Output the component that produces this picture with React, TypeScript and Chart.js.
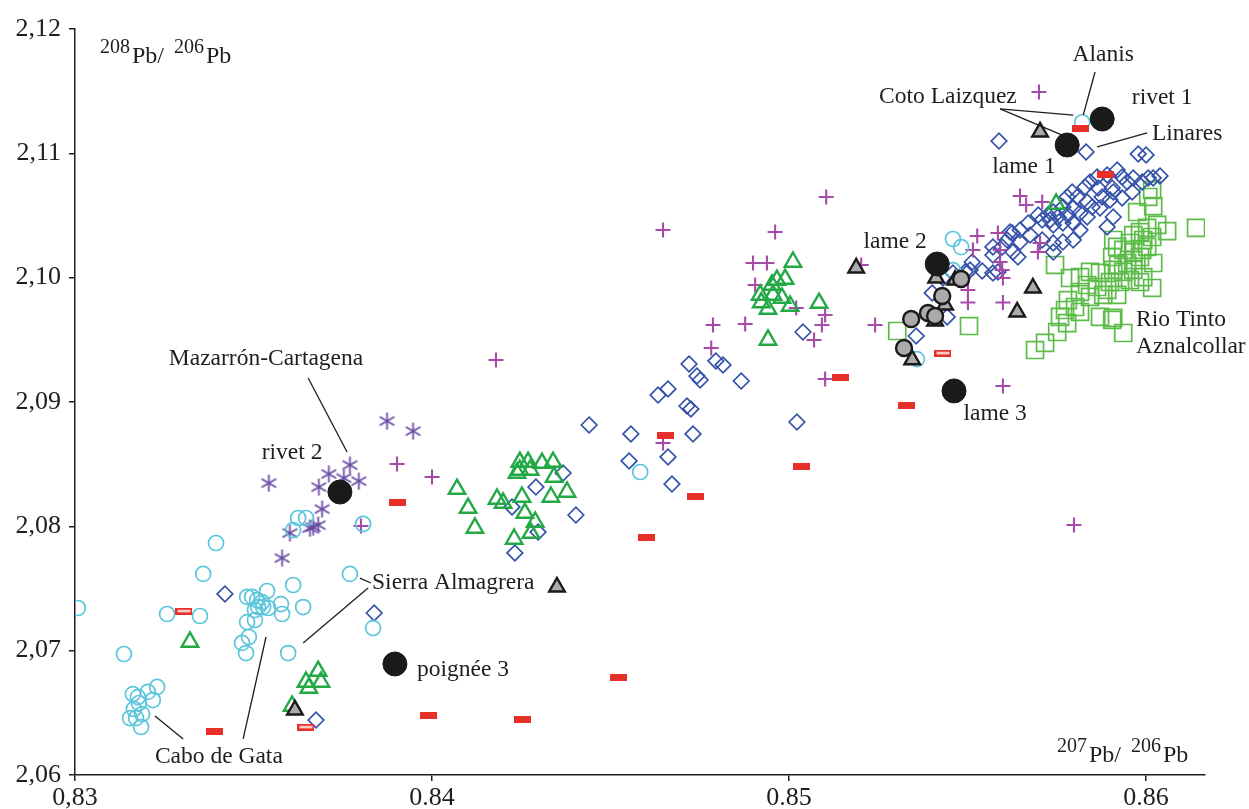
import React, { useEffect, useRef } from "react";
import { Chart, registerables } from "chart.js";

Chart.register(...registerables);

// ---------- axes ----------
const xTickValues = [0.83, 0.84, 0.85, 0.86];
const xTickLabels = ["0,83", "0.84", "0.85", "0.86"];
const yTickValues = [2.06, 2.07, 2.08, 2.09, 2.1, 2.11, 2.12];
const yTickLabels = ["2,06", "2,07", "2,08", "2,09", "2,10", "2,11", "2,12"];
const xMin = 0.83;
const xMax = 0.86165;
const yMin = 2.06;
const yMax = 2.12;

// ---------- series: [207Pb/206Pb, 208Pb/206Pb] ----------
const artefacts = [
  [0.85877, 2.11276], [0.85779, 2.11067], [0.85415, 2.1011], [0.85462, 2.09089],
  [0.83742, 2.08276], [0.83896, 2.06893],
];

const grayCircles = [
  [0.85342, 2.09667], [0.85322, 2.09434], [0.85389, 2.09716], [0.85409, 2.09692],
  [0.85429, 2.09853], [0.85482, 2.09989],
];

const grayTriangles = [
  [0.85703, 2.11172], [0.85188, 2.10078], [0.8435, 2.07512], [0.83616, 2.06523],
  [0.85683, 2.09917], [0.85639, 2.09724], [0.85412, 2.09997], [0.85437, 2.0978],
  [0.85409, 2.09652], [0.85345, 2.0934], [0.85465, 2.09981],
];

const redDashes = [
  [0.85815, 2.112], [0.83902, 2.08188], [0.83392, 2.06346], [0.83989, 2.06475],
  [0.84252, 2.0645], [0.84521, 2.06788], [0.84602, 2.07914], [0.84737, 2.08236],
  [0.84655, 2.08727], [0.85036, 2.08485], [0.85143, 2.092], [0.85328, 2.08968],
  [0.85885, 2.10826],
];

const redHollowDashes = [
  [0.83305, 2.07319], [0.83647, 2.06386], [0.85431, 2.09394],
];

const cyanCircles = [
  [0.83008, 2.07343], [0.83137, 2.06973], [0.83258, 2.07295], [0.8335, 2.07279],
  [0.83359, 2.07617], [0.83395, 2.07866], [0.83162, 2.06651], [0.83176, 2.06627],
  [0.83204, 2.06668], [0.8323, 2.06708], [0.83218, 2.06603], [0.83165, 2.06531],
  [0.83154, 2.06458], [0.83171, 2.06458], [0.83188, 2.0649], [0.83185, 2.06386],
  [0.83179, 2.06579], [0.83482, 2.07432], [0.83496, 2.07432], [0.8351, 2.07407],
  [0.83524, 2.07391], [0.83538, 2.0748], [0.83513, 2.07351], [0.83527, 2.07351],
  [0.83541, 2.07343], [0.83504, 2.07327], [0.83577, 2.07375], [0.8358, 2.07295],
  [0.83482, 2.0723], [0.83504, 2.07246], [0.83487, 2.0711], [0.83468, 2.07062],
  [0.83479, 2.06981], [0.83611, 2.07528], [0.83639, 2.07351], [0.83597, 2.06981],
  [0.83611, 2.0797], [0.83625, 2.08067], [0.83647, 2.08067], [0.83807, 2.08019],
  [0.8377, 2.07617], [0.83835, 2.07182], [0.84583, 2.08437], [0.85821, 2.1125],
  [0.85459, 2.10311], [0.85482, 2.10245], [0.85459, 2.1006], [0.85358, 2.09345],
];

const asterisks = [
  [0.83874, 2.08847], [0.83947, 2.08766], [0.83543, 2.08348], [0.83711, 2.08421],
  [0.8377, 2.08493], [0.83683, 2.08316], [0.83753, 2.08388], [0.83795, 2.08364],
  [0.83692, 2.08139], [0.83667, 2.07994], [0.83681, 2.0801], [0.83658, 2.07986],
  [0.83602, 2.07946], [0.8358, 2.07745],
];

const plusSigns = [
  [0.857, 2.11493], [0.85104, 2.10649], [0.84647, 2.10383], [0.84961, 2.10367],
  [0.84899, 2.10118], [0.84938, 2.10118], [0.84905, 2.09941], [0.8502, 2.09756],
  [0.84877, 2.09627], [0.84787, 2.09619], [0.84782, 2.09434], [0.8507, 2.09499],
  [0.85101, 2.097], [0.85092, 2.09619], [0.85101, 2.09185], [0.84647, 2.0867],
  [0.84179, 2.09338], [0.83902, 2.08501], [0.84, 2.08397], [0.83801, 2.08003],
  [0.85647, 2.10657], [0.85664, 2.10585], [0.85709, 2.10609], [0.85527, 2.10335],
  [0.85515, 2.10223], [0.85591, 2.10223], [0.85591, 2.10126], [0.85597, 2.10062],
  [0.85599, 2.09997], [0.85703, 2.10279], [0.85697, 2.10207], [0.85202, 2.10102],
  [0.85241, 2.09619], [0.85501, 2.09901], [0.85501, 2.098], [0.85599, 2.098],
  [0.85599, 2.09129], [0.85798, 2.08011], [0.85585, 2.10359],
];

const greenTriangles = [
  [0.8407, 2.083], [0.84101, 2.08147], [0.8412, 2.07987], [0.84182, 2.0822],
  [0.84199, 2.08188], [0.84246, 2.08517], [0.84269, 2.08517], [0.84308, 2.08509],
  [0.84339, 2.08517], [0.84238, 2.08429], [0.84246, 2.08453], [0.84275, 2.08453],
  [0.84342, 2.08397], [0.84378, 2.08276], [0.84333, 2.08236], [0.84252, 2.08236],
  [0.8426, 2.08107], [0.84289, 2.08035], [0.84277, 2.07946], [0.8423, 2.07898],
  [0.83322, 2.0707], [0.83608, 2.06555], [0.83647, 2.06748], [0.83655, 2.067],
  [0.83681, 2.06836], [0.83689, 2.06748], [0.85011, 2.10126], [0.84989, 2.09989],
  [0.84966, 2.09981], [0.84952, 2.09941], [0.84919, 2.09861], [0.84922, 2.098],
  [0.84955, 2.09861], [0.8498, 2.09837], [0.85003, 2.09772], [0.84941, 2.09748],
  [0.84941, 2.09499], [0.85084, 2.09796], [0.85748, 2.10593],
];

const diamonds = [
  [0.8342, 2.07456], [0.83838, 2.07303], [0.83675, 2.06442], [0.8444, 2.08815],
  [0.84557, 2.08743], [0.84552, 2.08526], [0.84661, 2.08558], [0.84672, 2.0834],
  [0.84731, 2.08743], [0.84714, 2.08968], [0.84725, 2.08944], [0.85022, 2.08839],
  [0.84367, 2.08429], [0.84291, 2.08316], [0.84224, 2.08156], [0.84403, 2.08091],
  [0.84297, 2.07954], [0.84232, 2.07786], [0.84633, 2.09056], [0.84661, 2.09105],
  [0.8472, 2.09306], [0.84742, 2.09209], [0.84751, 2.09177], [0.84795, 2.0933],
  [0.84815, 2.09298], [0.84866, 2.09169], [0.85039, 2.09563],
  [0.85588, 2.11099], [0.85832, 2.11011], [0.85978, 2.10995], [0.86, 2.10987],
  [0.86039, 2.10818], [0.86006, 2.10802], [0.85989, 2.10769], [0.85919, 2.10866],
  [0.85933, 2.1081], [0.85947, 2.10769], [0.85891, 2.10826], [0.85863, 2.1081],
  [0.85843, 2.10769], [0.85829, 2.10729], [0.85866, 2.10721], [0.85793, 2.10689],
  [0.85779, 2.10649], [0.85807, 2.10649], [0.85908, 2.10689], [0.85961, 2.10689],
  [0.85877, 2.10649], [0.85899, 2.10625], [0.85835, 2.10609], [0.85849, 2.10568],
  [0.85871, 2.1056], [0.85796, 2.1056], [0.85767, 2.10568], [0.8574, 2.10528],
  [0.85753, 2.10488], [0.85781, 2.10504], [0.85815, 2.1052], [0.85835, 2.10488],
  [0.85731, 2.10464], [0.85709, 2.10464], [0.8574, 2.10424], [0.85767, 2.1044],
  [0.85796, 2.1044], [0.85698, 2.10504], [0.8567, 2.1044], [0.85647, 2.10383],
  [0.85625, 2.10359], [0.85611, 2.10303], [0.85647, 2.10287], [0.85571, 2.10247],
  [0.85597, 2.10247], [0.85627, 2.10206], [0.85641, 2.10166], [0.85709, 2.10303],
  [0.8574, 2.10279], [0.85767, 2.10287], [0.85796, 2.10303], [0.8574, 2.10206],
  [0.85891, 2.10408], [0.85908, 2.10488], [0.85933, 2.10641], [0.85513, 2.10126],
  [0.85541, 2.10054], [0.85493, 2.10046], [0.85571, 2.10182], [0.85571, 2.10038],
  [0.85401, 2.09877], [0.85443, 2.09684], [0.85356, 2.09531], [0.85459, 2.10038],
  [0.8602, 2.10802], [0.85964, 2.10802], [0.85905, 2.10721], [0.85431, 2.09997],
  [0.85619, 2.10367], [0.85585, 2.10046], [0.85725, 2.10504], [0.85507, 2.10062],
  [0.85675, 2.10343], [0.85815, 2.10383],
];

const squares = [
  [0.86017, 2.10705], [0.86006, 2.10649], [0.8602, 2.10576], [0.85975, 2.10528],
  [0.86059, 2.10375], [0.8614, 2.104], [0.86031, 2.10424], [0.86003, 2.104],
  [0.85983, 2.10367], [0.85964, 2.10343], [0.86017, 2.10327], [0.85992, 2.10303],
  [0.85955, 2.10279], [0.85908, 2.10303], [0.85919, 2.10247], [0.85905, 2.10166],
  [0.85936, 2.10223], [0.85964, 2.10206], [0.85989, 2.10223], [0.86003, 2.10247],
  [0.8602, 2.10118], [0.85983, 2.10166], [0.85964, 2.10142], [0.85947, 2.10118],
  [0.85922, 2.10102], [0.85908, 2.10062], [0.85936, 2.10046], [0.85964, 2.10062],
  [0.85992, 2.10005], [0.85983, 2.09965], [0.85955, 2.09981], [0.85927, 2.09965],
  [0.85899, 2.09965], [0.85871, 2.10038], [0.85843, 2.10046], [0.85815, 2.10005],
  [0.85835, 2.09941], [0.85863, 2.09925], [0.85891, 2.09901], [0.85919, 2.09861],
  [0.8588, 2.09861], [0.85843, 2.09845], [0.85815, 2.09885], [0.85781, 2.0982],
  [0.85801, 2.09764], [0.85773, 2.0974], [0.85759, 2.09684], [0.85871, 2.09684],
  [0.85905, 2.0966], [0.85936, 2.09555], [0.85717, 2.09475], [0.85689, 2.09418],
  [0.85745, 2.10102], [0.85787, 2.09997], [0.86017, 2.09917], [0.85303, 2.09571],
  [0.85504, 2.09611], [0.85751, 2.09563], [0.85779, 2.09635], [0.85815, 2.09724],
  [0.85908, 2.09676],
];

// ---------- annotations (data coordinates) ----------
const noteLabels = [
  { text: "Alanis", x: 0.8588, y: 2.11791, align: "center" },
  { text: "Coto Laizquez", x: 0.85445, y: 2.11453, align: "center" },
  { text: "rivet 1", x: 0.86045, y: 2.11445, align: "center" },
  { text: "Linares", x: 0.86115, y: 2.11156, align: "center" },
  { text: "lame 1", x: 0.85658, y: 2.1089, align: "center" },
  { text: "lame 2", x: 0.85297, y: 2.10287, align: "center" },
  { text: "lame 3", x: 0.85577, y: 2.08904, align: "center" },
  { text: "Rio Tinto", x: 0.85972, y: 2.0966, align: "left" },
  { text: "Aznalcollar", x: 0.85972, y: 2.09442, align: "left" },
  { text: "Mazarrón-Cartagena", x: 0.83535, y: 2.09346, align: "center" },
  { text: "rivet 2", x: 0.83608, y: 2.0859, align: "center" },
  { text: "Sierra Almagrera", x: 0.83832, y: 2.07544, align: "left" },
  { text: "poignée 3", x: 0.83958, y: 2.06845, align: "left" },
  { text: "Cabo de Gata", x: 0.83403, y: 2.06145, align: "center" },
];

const leaderLines = [
  [0.85857, 2.11654, 0.85824, 2.11308],
  [0.85591, 2.11357, 0.85796, 2.11308],
  [0.85591, 2.11357, 0.85765, 2.11147],
  [0.86003, 2.11164, 0.85863, 2.11051],
  [0.83653, 2.09193, 0.83762, 2.08598],
  [0.83798, 2.07584, 0.83829, 2.07544],
  [0.83821, 2.07504, 0.83639, 2.07062],
  [0.83224, 2.06475, 0.83303, 2.0629],
  [0.83535, 2.0711, 0.83471, 2.0629],
];

const SERIF = '"Liberation Serif", "Times New Roman", serif';
const INK = "#1e1e1e";

function toXY(arr: number[][]) {
  return arr.map(([x, y]) => ({ x, y }));
}

function makeDash(hollow: boolean): HTMLCanvasElement {
  const c = document.createElement("canvas");
  c.width = 17;
  c.height = 7;
  const g = c.getContext("2d")!;
  g.fillStyle = "#e8302a";
  g.fillRect(0, 0, 17, 7);
  if (hollow) {
    g.fillStyle = "#ffffff";
    g.fillRect(2, 2.5, 13, 2);
  }
  return c;
}

function makeAsterisk(): HTMLCanvasElement {
  const s = 19;
  const c = document.createElement("canvas");
  c.width = s;
  c.height = s;
  const g = c.getContext("2d")!;
  g.strokeStyle = "#6a4ca6";
  g.lineWidth = 1.8;
  const r = 8.5;
  const cx = s / 2;
  const cy = s / 2;
  for (let k = 0; k < 3; k++) {
    const a = (k * Math.PI) / 3;
    g.beginPath();
    g.moveTo(cx + Math.sin(a) * r, cy - Math.cos(a) * r);
    g.lineTo(cx - Math.sin(a) * r, cy + Math.cos(a) * r);
    g.stroke();
  }
  return c;
}

function drawIsotope(ctx: CanvasRenderingContext2D, x0: number, base: number, a: string, b: string) {
  let x = x0;
  ctx.textAlign = "left";
  ctx.textBaseline = "alphabetic";
  ctx.font = `20px ${SERIF}`;
  ctx.fillText(a, x, base - 10);
  x += ctx.measureText(a).width + 2;
  ctx.font = `24px ${SERIF}`;
  ctx.fillText("Pb/", x, base);
  x += ctx.measureText("Pb/ ").width + 4;
  ctx.font = `20px ${SERIF}`;
  ctx.fillText(b, x, base - 10);
  x += ctx.measureText(b).width + 2;
  ctx.font = `24px ${SERIF}`;
  ctx.fillText("Pb", x, base);
}

const notesPlugin = {
  id: "notes",
  afterDatasetsDraw(chart: any) {
    const { ctx, chartArea } = chart;
    const xs = chart.scales.x;
    const ys = chart.scales.y;
    ctx.save();
    ctx.strokeStyle = INK;
    ctx.lineWidth = 1.3;
    for (const l of leaderLines) {
      ctx.beginPath();
      ctx.moveTo(xs.getPixelForValue(l[0]), ys.getPixelForValue(l[1]));
      ctx.lineTo(xs.getPixelForValue(l[2]), ys.getPixelForValue(l[3]));
      ctx.stroke();
    }
    ctx.fillStyle = INK;
    ctx.font = `23.5px ${SERIF}`;
    ctx.textBaseline = "middle";
    for (const t of noteLabels) {
      ctx.textAlign = t.align;
      ctx.fillText(t.text, xs.getPixelForValue(t.x), ys.getPixelForValue(t.y));
    }
    drawIsotope(ctx, chartArea.left + 25, chartArea.top + 34, "208", "206");
    drawIsotope(ctx, chartArea.right - 148, chartArea.bottom - 13, "207", "206");
    ctx.restore();
  },
};

export default function App() {
  const ref = useRef<HTMLCanvasElement>(null);

  useEffect(() => {
    document.body.style.margin = "0";
    const dash = makeDash(false);
    const hollow = makeDash(true);
    const aster = makeAsterisk();
    const tickFont = { family: SERIF, size: 26 };
    const chart = new Chart(ref.current!, {
      type: "scatter",
      data: {
        datasets: [
          {
            label: "artefacts", data: toXY(artefacts), order: 0,
            pointStyle: "circle", pointRadius: 12, backgroundColor: "#1a1a1a",
            borderColor: "#1a1a1a", borderWidth: 1,
          },
          {
            label: "gray circles", data: toXY(grayCircles), order: 1,
            pointStyle: "circle", pointRadius: 8, backgroundColor: "#ababab",
            borderColor: "#1a1a1a", borderWidth: 2.4,
          },
          {
            label: "gray triangles", data: toXY(grayTriangles), order: 2,
            pointStyle: "triangle", pointRadius: 9, backgroundColor: "#ababab",
            borderColor: "#1a1a1a", borderWidth: 2.4,
          },
          {
            label: "red hollow", data: toXY(redHollowDashes), order: 3,
            pointStyle: hollow, pointRadius: 8,
          },
          {
            label: "red", data: toXY(redDashes), order: 3,
            pointStyle: dash, pointRadius: 8,
          },
          {
            label: "green triangles", data: toXY(greenTriangles), order: 4,
            pointStyle: "triangle", pointRadius: 9.5, backgroundColor: "rgba(0,0,0,0)",
            borderColor: "#22a845", borderWidth: 2.4,
          },
          {
            label: "cyan", data: toXY(cyanCircles), order: 5,
            pointStyle: "circle", pointRadius: 7.5, backgroundColor: "rgba(0,0,0,0)",
            borderColor: "#5cc6dc", borderWidth: 1.7,
          },
          {
            label: "asterisks", data: toXY(asterisks), order: 6,
            pointStyle: aster, pointRadius: 8,
          },
          {
            label: "plus", data: toXY(plusSigns), order: 7,
            pointStyle: "cross", pointRadius: 7.5, backgroundColor: "rgba(0,0,0,0)",
            borderColor: "#a64aa8", borderWidth: 2.1,
          },
          {
            label: "diamonds", data: toXY(diamonds), order: 8,
            pointStyle: "rectRot", pointRadius: 7.8, backgroundColor: "rgba(0,0,0,0)",
            borderColor: "#3552aa", borderWidth: 1.7,
          },
          {
            label: "squares", data: toXY(squares), order: 9,
            pointStyle: "rect", pointRadius: 12, backgroundColor: "rgba(0,0,0,0)",
            borderColor: "#5cba48", borderWidth: 1.7,
          },
        ],
      },
      options: {
        responsive: false,
        animation: false,
        devicePixelRatio: 1,
        layout: { padding: { top: 29, right: 44, left: 0, bottom: 0 } },
        plugins: { legend: { display: false }, tooltip: { enabled: false } },
        scales: {
          x: {
            type: "linear",
            min: xMin,
            max: xMax,
            afterBuildTicks: (s: any) => {
              s.ticks = xTickValues.map((v) => ({ value: v }));
            },
            afterFit: (s: any) => {
              s.height = 34;
            },
            ticks: {
              autoSkip: false,
              maxRotation: 0,
              padding: 2,
              color: INK,
              font: tickFont,
              callback: (v: any) => {
                const i = xTickValues.findIndex((t) => Math.abs(t - Number(v)) < 1e-6);
                return i >= 0 ? xTickLabels[i] : "";
              },
            },
            grid: { display: true, drawOnChartArea: false, drawTicks: true, tickLength: 6, color: INK, lineWidth: 1.5 },
            border: { display: true, color: INK, width: 1.5 },
          },
          y: {
            type: "linear",
            min: yMin,
            max: yMax,
            afterBuildTicks: (s: any) => {
              s.ticks = yTickValues.map((v) => ({ value: v }));
            },
            afterFit: (s: any) => {
              s.width = 75;
            },
            ticks: {
              autoSkip: false,
              padding: 8,
              color: INK,
              font: tickFont,
              callback: (v: any) => {
                const i = yTickValues.findIndex((t) => Math.abs(t - Number(v)) < 1e-6);
                return i >= 0 ? yTickLabels[i] : "";
              },
            },
            grid: { display: true, drawOnChartArea: false, drawTicks: true, tickLength: 6, color: INK, lineWidth: 1.5 },
            border: { display: true, color: INK, width: 1.5 },
          },
        },
      },
      plugins: [notesPlugin],
    } as any);
    return () => chart.destroy();
  }, []);

  return (
    <div style={{ position: "absolute", left: 0, top: 0, width: 1249, height: 809, background: "#fff" }}>
      <canvas ref={ref} width={1249} height={809} />
    </div>
  );
}
